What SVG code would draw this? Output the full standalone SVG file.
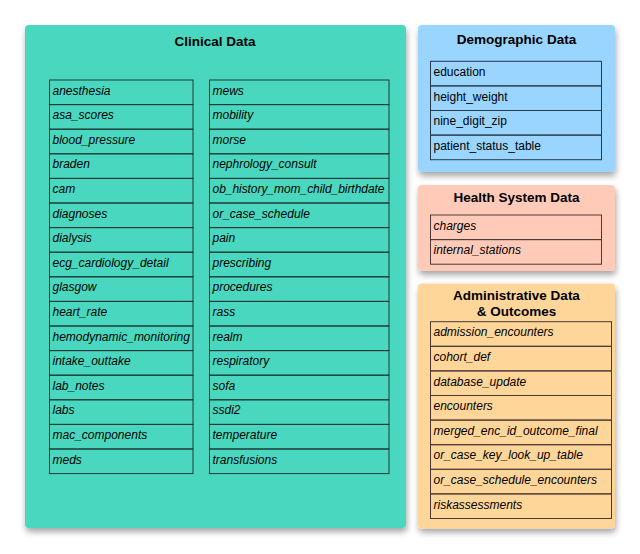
<svg xmlns="http://www.w3.org/2000/svg" width="640" height="554" viewBox="0 0 640 554">
<defs>
<filter id="sh" x="-10%" y="-10%" width="125%" height="125%">
<feDropShadow dx="1" dy="4" stdDeviation="3" flood-color="#000" flood-opacity="0.35"/>
</filter>
</defs>
<style>
.t{font-family:"Liberation Sans",Arial,sans-serif;font-size:13.5px;font-weight:bold;fill:#000;text-anchor:middle}
.r{font-family:"Liberation Sans",Arial,sans-serif;font-size:12px;font-style:italic;fill:#000}
.n{font-family:"Liberation Sans",Arial,sans-serif;font-size:12px;fill:#000}
.row{fill:none;stroke:#1e3a36;stroke-width:1}
.rowb{fill:none;stroke:#2a3a4a;stroke-width:1}
.rowh{fill:none;stroke:#4a3a34;stroke-width:1}
</style>
<rect width="640" height="554" fill="#ffffff"/>

<g id="clinical">
<rect x="25" y="25" width="381" height="503" rx="4" fill="#48D8BF" filter="url(#sh)"/>
<text class="t" x="215" y="46">Clinical Data</text>
<g id="clinical-left">
<rect class="row" x="49.5" y="80" width="143.5" height="24.6"/>
<rect class="row" x="49.5" y="104.6" width="143.5" height="24.6"/>
<rect class="row" x="49.5" y="129.2" width="143.5" height="24.6"/>
<rect class="row" x="49.5" y="153.8" width="143.5" height="24.6"/>
<rect class="row" x="49.5" y="178.4" width="143.5" height="24.6"/>
<rect class="row" x="49.5" y="203" width="143.5" height="24.6"/>
<rect class="row" x="49.5" y="227.6" width="143.5" height="24.6"/>
<rect class="row" x="49.5" y="252.2" width="143.5" height="24.6"/>
<rect class="row" x="49.5" y="276.8" width="143.5" height="24.6"/>
<rect class="row" x="49.5" y="301.4" width="143.5" height="24.6"/>
<rect class="row" x="49.5" y="326" width="143.5" height="24.6"/>
<rect class="row" x="49.5" y="350.6" width="143.5" height="24.6"/>
<rect class="row" x="49.5" y="375.2" width="143.5" height="24.6"/>
<rect class="row" x="49.5" y="399.8" width="143.5" height="24.6"/>
<rect class="row" x="49.5" y="424.4" width="143.5" height="24.6"/>
<rect class="row" x="49.5" y="449" width="143.5" height="24.6"/>
<text class="r" x="52.5" y="94.6">anesthesia</text>
<text class="r" x="52.5" y="119.2">asa_scores</text>
<text class="r" x="52.5" y="143.8">blood_pressure</text>
<text class="r" x="52.5" y="168.4">braden</text>
<text class="r" x="52.5" y="193">cam</text>
<text class="r" x="52.5" y="217.6">diagnoses</text>
<text class="r" x="52.5" y="242.2">dialysis</text>
<text class="r" x="52.5" y="266.8">ecg_cardiology_detail</text>
<text class="r" x="52.5" y="291.4">glasgow</text>
<text class="r" x="52.5" y="316">heart_rate</text>
<text class="r" x="52.5" y="340.6">hemodynamic_monitoring</text>
<text class="r" x="52.5" y="365.2">intake_outtake</text>
<text class="r" x="52.5" y="389.8">lab_notes</text>
<text class="r" x="52.5" y="414.4">labs</text>
<text class="r" x="52.5" y="439">mac_components</text>
<text class="r" x="52.5" y="463.6">meds</text>
</g>
<g id="clinical-right">
<rect class="row" x="209.5" y="80" width="179.5" height="24.6"/>
<rect class="row" x="209.5" y="104.6" width="179.5" height="24.6"/>
<rect class="row" x="209.5" y="129.2" width="179.5" height="24.6"/>
<rect class="row" x="209.5" y="153.8" width="179.5" height="24.6"/>
<rect class="row" x="209.5" y="178.4" width="179.5" height="24.6"/>
<rect class="row" x="209.5" y="203" width="179.5" height="24.6"/>
<rect class="row" x="209.5" y="227.6" width="179.5" height="24.6"/>
<rect class="row" x="209.5" y="252.2" width="179.5" height="24.6"/>
<rect class="row" x="209.5" y="276.8" width="179.5" height="24.6"/>
<rect class="row" x="209.5" y="301.4" width="179.5" height="24.6"/>
<rect class="row" x="209.5" y="326" width="179.5" height="24.6"/>
<rect class="row" x="209.5" y="350.6" width="179.5" height="24.6"/>
<rect class="row" x="209.5" y="375.2" width="179.5" height="24.6"/>
<rect class="row" x="209.5" y="399.8" width="179.5" height="24.6"/>
<rect class="row" x="209.5" y="424.4" width="179.5" height="24.6"/>
<rect class="row" x="209.5" y="449" width="179.5" height="24.6"/>
<text class="r" x="212.5" y="94.6">mews</text>
<text class="r" x="212.5" y="119.2">mobility</text>
<text class="r" x="212.5" y="143.8">morse</text>
<text class="r" x="212.5" y="168.4">nephrology_consult</text>
<text class="r" x="212.5" y="193" textLength="172" lengthAdjust="spacing">ob_history_mom_child_birthdate</text>
<text class="r" x="212.5" y="217.6">or_case_schedule</text>
<text class="r" x="212.5" y="242.2">pain</text>
<text class="r" x="212.5" y="266.8">prescribing</text>
<text class="r" x="212.5" y="291.4">procedures</text>
<text class="r" x="212.5" y="316">rass</text>
<text class="r" x="212.5" y="340.6">realm</text>
<text class="r" x="212.5" y="365.2">respiratory</text>
<text class="r" x="212.5" y="389.8">sofa</text>
<text class="r" x="212.5" y="414.4">ssdi2</text>
<text class="r" x="212.5" y="439">temperature</text>
<text class="r" x="212.5" y="463.6">transfusions</text>
</g>
</g>

<g id="demographic">
<rect x="418" y="25" width="197" height="147" rx="4" fill="#99D5FF" filter="url(#sh)"/>
<text class="t" x="516.5" y="43.5">Demographic Data</text>
<rect class="rowb" x="430.5" y="61.3" width="171" height="24.6"/>
<rect class="rowb" x="430.5" y="85.9" width="171" height="24.6"/>
<rect class="rowb" x="430.5" y="110.5" width="171" height="24.6"/>
<rect class="rowb" x="430.5" y="135.1" width="171" height="24.6"/>
<text class="n" x="433.5" y="75.9">education</text>
<text class="n" x="433.5" y="100.5">height_weight</text>
<text class="n" x="433.5" y="125.1">nine_digit_zip</text>
<text class="n" x="433.5" y="149.7">patient_status_table</text>
</g>

<g id="health-system">
<rect x="418" y="185" width="197" height="86" rx="4" fill="#FFCBB8" filter="url(#sh)"/>
<text class="t" x="516.5" y="201.5">Health System Data</text>
<rect class="rowh" x="430.5" y="215" width="171" height="24.6"/>
<rect class="rowh" x="430.5" y="239.6" width="171" height="24.6"/>
<text class="r" x="433.5" y="229.6">charges</text>
<text class="r" x="433.5" y="254.2">internal_stations</text>
</g>

<g id="administrative">
<rect x="418" y="283.5" width="197" height="245" rx="4" fill="#FFD699" filter="url(#sh)"/>
<text class="t" x="516.5" y="299.5">Administrative Data</text>
<text class="t" x="516.5" y="315.5">&amp; Outcomes</text>
<rect class="rowh" x="430.5" y="321.7" width="181" height="24.6"/>
<rect class="rowh" x="430.5" y="346.3" width="181" height="24.6"/>
<rect class="rowh" x="430.5" y="370.9" width="181" height="24.6"/>
<rect class="rowh" x="430.5" y="395.5" width="181" height="24.6"/>
<rect class="rowh" x="430.5" y="420.1" width="181" height="24.6"/>
<rect class="rowh" x="430.5" y="444.7" width="181" height="24.6"/>
<rect class="rowh" x="430.5" y="469.3" width="181" height="24.6"/>
<rect class="rowh" x="430.5" y="493.9" width="181" height="24.6"/>
<text class="r" x="433.5" y="336.3">admission_encounters</text>
<text class="r" x="433.5" y="360.9">cohort_def</text>
<text class="r" x="433.5" y="385.5">database_update</text>
<text class="r" x="433.5" y="410.1">encounters</text>
<text class="r" x="433.5" y="434.7">merged_enc_id_outcome_final</text>
<text class="r" x="433.5" y="459.3">or_case_key_look_up_table</text>
<text class="r" x="433.5" y="483.9">or_case_schedule_encounters</text>
<text class="r" x="433.5" y="508.5">riskassessments</text>
</g>

<g id="connectors"></g>
</svg>
